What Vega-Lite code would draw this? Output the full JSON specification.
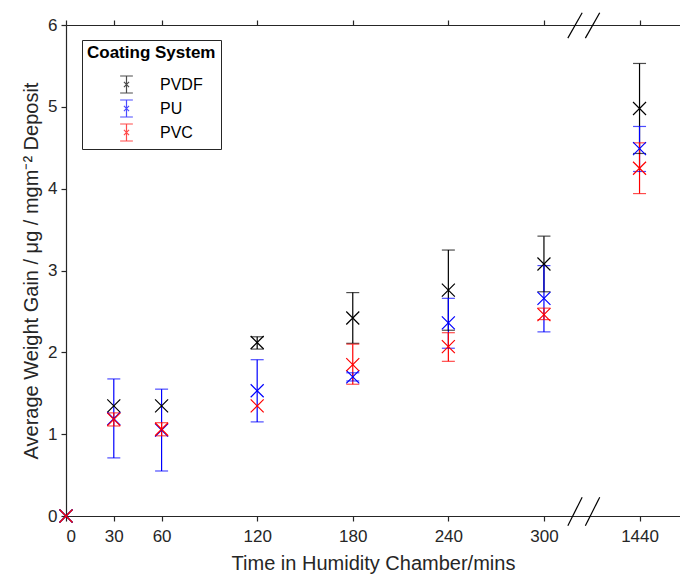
{
  "$schema": "https://vega.github.io/schema/vega-lite/v6.json",
  "autosize": {"type": "none"},
  "padding": {"left": 66, "top": 25, "right": 0, "bottom": 58},
  "width": 614,
  "height": 491,
  "background": "white",
  "config": {
    "view": {"stroke": null},
    "font": "Liberation Sans",
    "axis": {
      "labelFont": "Liberation Sans",
      "titleFont": "Liberation Sans",
      "labelColor": "#262626",
      "titleColor": "#262626",
      "domainColor": "#262626",
      "tickColor": "#262626",
      "domainWidth": 1.2,
      "tickWidth": 1.2,
      "grid": false,
      "labelFontSize": 17,
      "titleFontSize": 20,
      "titleFontWeight": "normal"
    },
    "legend": {
      "labelFont": "Liberation Sans",
      "titleFont": "Liberation Sans"
    }
  },
  "datasets": {
    "pts": [
      {"series": "PVDF", "time": 0, "pos": 0, "mean": 0, "lo": null, "hi": null},
      {"series": "PVDF", "time": 30, "pos": 30, "mean": 1.345, "lo": null, "hi": null},
      {"series": "PVDF", "time": 60, "pos": 60, "mean": 1.345, "lo": null, "hi": null},
      {"series": "PVDF", "time": 120, "pos": 120, "mean": 2.12, "lo": 2.04, "hi": 2.19},
      {"series": "PVDF", "time": 180, "pos": 180, "mean": 2.42, "lo": 2.11, "hi": 2.73},
      {"series": "PVDF", "time": 240, "pos": 240, "mean": 2.76, "lo": 2.27, "hi": 3.25},
      {"series": "PVDF", "time": 300, "pos": 300, "mean": 3.08, "lo": 2.74, "hi": 3.42},
      {"series": "PVDF", "time": 1440, "pos": 360, "mean": 4.98, "lo": 4.43, "hi": 5.53},
      {"series": "PU", "time": 0, "pos": 0, "mean": 0, "lo": null, "hi": null},
      {"series": "PU", "time": 30, "pos": 30, "mean": 1.19, "lo": 0.71, "hi": 1.675},
      {"series": "PU", "time": 60, "pos": 60, "mean": 1.05, "lo": 0.55, "hi": 1.55},
      {"series": "PU", "time": 120, "pos": 120, "mean": 1.53, "lo": 1.15, "hi": 1.91},
      {"series": "PU", "time": 180, "pos": 180, "mean": 1.7, "lo": 1.65, "hi": 1.75},
      {"series": "PU", "time": 240, "pos": 240, "mean": 2.36, "lo": 2.05, "hi": 2.66},
      {"series": "PU", "time": 300, "pos": 300, "mean": 2.66, "lo": 2.25, "hi": 3.06},
      {"series": "PU", "time": 1440, "pos": 360, "mean": 4.49, "lo": 4.21, "hi": 4.76},
      {"series": "PVC", "time": 0, "pos": 0, "mean": 0, "lo": null, "hi": null},
      {"series": "PVC", "time": 30, "pos": 30, "mean": 1.18, "lo": 1.1, "hi": 1.26},
      {"series": "PVC", "time": 60, "pos": 60, "mean": 1.06, "lo": 0.98, "hi": 1.14},
      {"series": "PVC", "time": 120, "pos": 120, "mean": 1.345, "lo": null, "hi": null},
      {"series": "PVC", "time": 180, "pos": 180, "mean": 1.85, "lo": 1.61, "hi": 2.1},
      {"series": "PVC", "time": 240, "pos": 240, "mean": 2.07, "lo": 1.89, "hi": 2.24},
      {"series": "PVC", "time": 300, "pos": 300, "mean": 2.46, "lo": 2.4, "hi": 2.54},
      {"series": "PVC", "time": 1440, "pos": 360, "mean": 4.25, "lo": 3.94, "hi": 4.56}
    ],
    "brk": [
      {"x1": 315, "x2": 324, "y1": -0.12, "y2": 0.23},
      {"x1": 326, "x2": 335, "y1": -0.12, "y2": 0.23},
      {"x1": 315, "x2": 324, "y1": 5.84, "y2": 6.15},
      {"x1": 326, "x2": 335, "y1": 5.84, "y2": 6.15}
    ]
  },
  "data": {"name": "pts"},
  "layer": [
    {
      "mark": {"type": "rule", "strokeWidth": 1.2},
      "encoding": {
        "x": {"field": "pos", "type": "quantitative",
          "scale": {"domain": [0, 385.4], "nice": false, "zero": false},
          "axis": {"orient": "bottom", "values": [0, 30, 60, 120, 180, 240, 300, 360],
            "labelExpr": "datum.value == 360 ? '1440' : datum.label",
            "tickSize": 5, "labelPadding": 7, "title": "Time in Humidity Chamber/mins", "titlePadding": 9,
            "encode": {"ticks": {"update": {"y2": {"value": -5}}}}}},
        "y": {"field": "lo", "type": "quantitative",
          "scale": {"domain": [0, 6], "nice": false},
          "axis": {"values": [0, 1, 2, 3, 4, 5, 6], "format": "d", "tickSize": 5, "labelPadding": 4,
            "title": "Average Weight Gain / μg / mgm⁻² Deposit", "titlePadding": 6,
            "encode": {"ticks": {"update": {"x2": {"value": 5}}}}}},
        "y2": {"field": "hi"},
        "color": {"field": "series", "type": "nominal",
          "scale": {"domain": ["PVDF", "PU", "PVC"], "range": ["#000000", "#0000ff", "#ff0000"]},
          "legend": {
            "orient": "none", "legendX": 16, "legendY": 15,
            "title": "Coating System",
            "titleFontSize": 17, "titleFontWeight": "bold", "titleColor": "#000000",
            "titlePadding": 13,
            "labelFontSize": 16, "labelColor": "#000000",
            "symbolType": "M-0.75,-1H0.75M0,-1V1M-0.75,1H0.75M-0.3,-0.3L0.3,0.3M-0.3,0.3L0.3,-0.3",
            "symbolSize": 289, "symbolStrokeWidth": 1.2, "symbolFillColor": "transparent",
            "symbolOffset": 30, "labelOffset": 24, "rowPadding": 1,
            "padding": 5, "strokeColor": "#262626", "fillColor": "white"
          }}
      }
    },
    {
      "mark": {"type": "tick", "orient": "horizontal", "size": 13, "thickness": 1.2},
      "encoding": {
        "x": {"field": "pos", "type": "quantitative", "axis": null},
        "y": {"field": "lo", "type": "quantitative"},
        "color": {"field": "series", "type": "nominal"}
      }
    },
    {
      "mark": {"type": "tick", "orient": "horizontal", "size": 13, "thickness": 1.2},
      "encoding": {
        "x": {"field": "pos", "type": "quantitative", "axis": null},
        "y": {"field": "hi", "type": "quantitative"},
        "color": {"field": "series", "type": "nominal"}
      }
    },
    {
      "mark": {"type": "point", "shape": "M-1,-1L1,1M-1,1L1,-1", "filled": false, "size": 169, "strokeWidth": 1.2, "opacity": 1},
      "encoding": {
        "x": {"field": "pos", "type": "quantitative",
          "axis": {"orient": "top", "values": [0, 30, 60, 120, 180, 240, 300, 360], "labels": false, "tickSize": 5, "title": null,
            "encode": {"ticks": {"update": {"y2": {"value": 5}}}}}},
        "y": {"field": "mean", "type": "quantitative"},
        "color": {"field": "series", "type": "nominal"}
      }
    },
    {
      "data": {"name": "brk"},
      "mark": {"type": "rule", "color": "#000000", "strokeWidth": 1.2},
      "encoding": {
        "x": {"field": "x1", "type": "quantitative", "axis": null},
        "x2": {"field": "x2"},
        "y": {"field": "y1", "type": "quantitative"},
        "y2": {"field": "y2"}
      }
    }
  ]
}
